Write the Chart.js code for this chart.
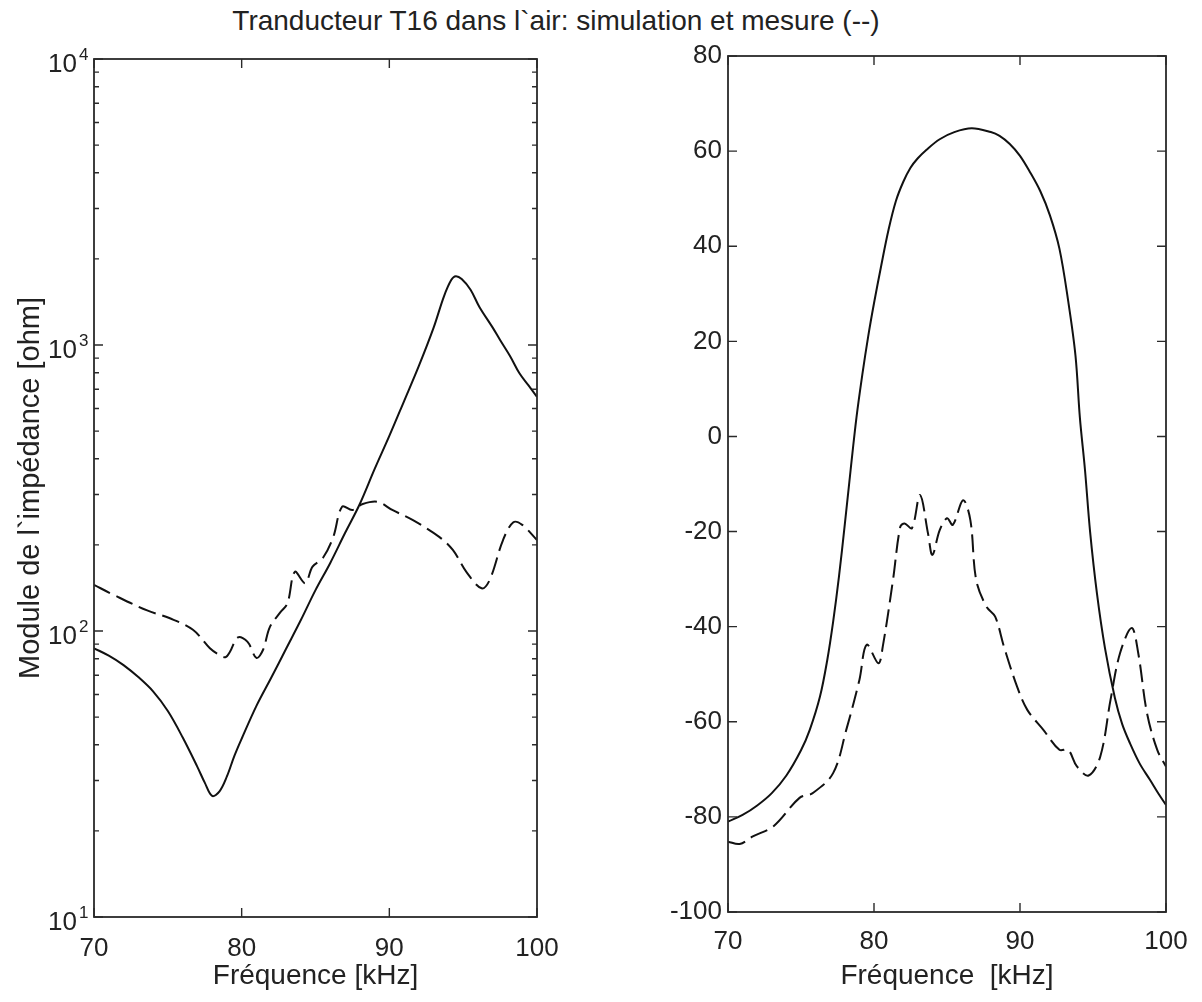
<!DOCTYPE html>
<html><head><meta charset="utf-8">
<script src="https://cdn.jsdelivr.net/npm/chart.js@4.4.1/dist/chart.umd.min.js"></script>
<style>
html,body{margin:0;padding:0;background:#fff;width:1202px;height:1002px;overflow:hidden;}
#title{position:absolute;left:0;top:5px;width:1112px;text-align:center;font:28px 'Liberation Sans',Arial,sans-serif;color:#222;line-height:32px;white-space:nowrap;}
canvas{position:absolute;top:0;}
#c1{left:0}
#c2{left:600px}
</style></head><body>
<div id="title">Tranducteur T16 dans l`air: simulation et mesure (--)</div>
<canvas id="c1" width="600" height="1002"></canvas>
<canvas id="c2" width="602" height="1002"></canvas>
<script>
// ---- data ----
const xTitleLeft = "Fréquence [kHz]";
const xTitleRight = "Fréquence  [kHz]";
const yTitleLeft = "Module de l`impédance [ohm]";

const leftSimFreq = [70, 71, 72, 73, 74, 75, 76, 77, 77.5, 78, 78.5, 79, 79.5, 80, 81, 82, 83, 84, 85, 86, 87, 88, 89, 90, 91, 92, 93, 93.7, 94.2, 94.5, 94.9, 95.5, 96.1, 97, 97.5, 98.2, 98.8, 99.4, 100];
const leftSimMag  = [87, 82, 76, 69, 61.5, 52.5, 42.5, 33.5, 29.5, 26.5, 27.5, 31, 36.5, 42, 54.7, 68.6, 86.5, 109, 139, 173, 220, 278, 368, 481, 637, 845, 1150, 1480, 1690, 1740, 1700, 1560, 1358, 1150, 1041, 910, 798, 725, 658];

const leftMeasFreq = [70, 71.3, 73.6, 75.1, 76.7, 77.85, 78.4, 78.9, 79.2, 79.75, 80.4, 81.0, 81.45, 81.9, 82.6, 83.1, 83.6, 84.3, 84.8, 85.5, 86.2, 86.8, 87.5, 88.2, 89.2, 90.2, 91.6, 93.4, 94.3, 95.25, 96.25, 96.8, 97.7, 98.4, 99.0, 100];
const leftMeasMag  = [145, 134, 118, 111, 101, 87, 83, 81, 84.5, 95, 91.6, 80.5, 86, 103, 116, 125, 161, 147, 168, 180, 213, 272, 265, 278, 283, 265, 244, 213, 192, 160, 141, 151, 208, 240, 235, 208];

const rightSimFreq  = [70, 71, 72, 73, 74, 75, 75.6, 76.3, 76.8, 77.2, 77.6, 78, 78.4, 78.8, 79.2, 79.6, 80, 80.5, 81, 81.5, 82, 82.5, 83, 83.6, 84.5, 85.5, 86.7, 88, 88.6, 89.3, 90, 90.7, 91.4, 92.05, 92.7, 93.3, 93.8, 94.1, 94.45, 94.8, 95.27, 95.82, 96.5, 97, 97.53, 98.2, 98.9, 99.5, 100];
const rightSimPhase = [-81, -79.6, -77.6, -75, -71.3, -66, -61.7, -54.7, -47, -39, -29.5, -18.5, -7, 4, 13, 21, 28, 36, 43.5, 49.5, 53.5, 56.5, 58.5, 60.3, 62.5, 64, 64.8, 64, 63.2, 61.5, 59, 55.5, 51.5, 46.5, 39.5, 28.5, 17, 4, -7, -20, -33, -44.5, -55, -60.5, -64.5, -68.8, -72.2, -75.2, -77.5];

const rightMeasFreq  = [70, 70.8, 71.7, 73.1, 74.9, 75.8, 77.2, 78.1, 79.0, 79.5, 80.3, 80.6, 81.3, 81.8, 82.1, 82.6, 83.15, 83.7, 84.0, 84.5, 85.0, 85.4, 86.1, 86.6, 87.0, 87.7, 88.3, 88.9, 89.8, 90.5, 91.6, 92.7, 93.3, 93.9, 94.7, 95.5, 96.2, 96.85, 97.65, 98.1, 98.7, 99.4, 100];
const rightMeasPhase = [-85.2, -85.7, -84.1, -82.0, -76.0, -75.0, -70.8, -61.7, -51.2, -43.8, -47.7, -44.2, -30.2, -19.0, -18.3, -19.3, -12.3, -20.4, -24.9, -19.7, -17.2, -18.6, -13.4, -17.6, -30.2, -35.8, -37.9, -44.2, -52.6, -57.5, -61.7, -65.9, -65.9, -69.4, -71.3, -67.3, -55.4, -45.6, -40.3, -45.6, -58.2, -65.9, -69.4];

const xTickValues = [70, 80, 90, 100];
const logMajorValues = [10, 100, 1000, 10000];
const logBaseText = '10';
const logExponentText = ['1', '2', '3', '4'];
const logDecades = [10, 100, 1000];
const logMantissas = [1, 2, 3, 4, 5, 6, 7, 8, 9];

// ---- helpers ----
const FONT = "'Liberation Sans', Arial, Helvetica, sans-serif";
const INK = '#222';
Chart.defaults.font.family = FONT;
Chart.defaults.color = INK;
const pts = (xs, ys) => xs.map((x, i) => ({x, y: ys[i]}));
const logTickValues = logDecades.flatMap(d => logMantissas.map(m => m * d)).concat([10000]);

const frameTicks = {
  id: 'frameTicks',
  afterDatasetsDraw(chart, args, opts) {
    const {ctx, chartArea: a} = chart;
    const xs = chart.scales.x, ys = chart.scales.y;
    ctx.save();
    ctx.strokeStyle = '#2a2a2a';
    ctx.lineWidth = 1.4;
    ctx.beginPath();
    xs.ticks.forEach(t => {
      const p = xs.getPixelForValue(t.value);
      ctx.moveTo(p, a.bottom); ctx.lineTo(p, a.bottom - opts.xLen);
      ctx.moveTo(p, a.top); ctx.lineTo(p, a.top + opts.xLen);
    });
    ys.ticks.forEach(t => {
      const p = ys.getPixelForValue(t.value);
      let len = opts.yLen;
      if (opts.log) {
        const l = Math.log10(t.value);
        if (Math.abs(l - Math.round(l)) > 1e-9) len = opts.yMinorLen;
      }
      ctx.moveTo(a.left, p); ctx.lineTo(a.left + len, p);
      ctx.moveTo(a.right, p); ctx.lineTo(a.right - len, p);
    });
    ctx.stroke();
    ctx.lineWidth = 1.8;
    ctx.strokeRect(a.left, a.top, a.right - a.left, a.bottom - a.top);
    ctx.restore();
  }
};

// power-of-ten labels with a raised exponent, placed with the log scale
const powerLabels = {
  id: 'powerLabels',
  afterDraw(chart) {
    const {ctx, chartArea: a} = chart;
    const ys = chart.scales.y;
    ctx.save();
    ctx.fillStyle = INK;
    ctx.textBaseline = 'alphabetic';
    logMajorValues.forEach((v, i) => {
      const p = ys.getPixelForValue(v);
      ctx.font = '26px ' + FONT;
      ctx.textAlign = 'right';
      ctx.fillText(logBaseText, a.left - 17, p + 13);
      ctx.font = '17px ' + FONT;
      ctx.textAlign = 'left';
      ctx.fillText(logExponentText[i], a.left - 15, p + 1);
    });
    ctx.restore();
  }
};

function xScale(title, pad, height, tpad) {
  return {
    type: 'linear', min: 70, max: 100,
    afterBuildTicks: s => { s.ticks = xTickValues.map(v => ({value: v})); },
    afterFit: s => { s.height = height; },
    grid: {display: false, drawTicks: false},
    border: {display: false},
    ticks: {font: {size: 26}, color: INK, padding: pad, maxRotation: 0, autoSkip: false},
    title: {display: true, text: title, font: {size: 28, lineHeight: 1}, color: INK, padding: {top: 0, bottom: tpad}}
  };
}

const common = {
  responsive: false,
  animation: false,
  devicePixelRatio: 1,
  plugins: {legend: {display: false}, tooltip: {enabled: false}},
  elements: {point: {radius: 0}, line: {tension: 0.35, borderWidth: 2, borderColor: '#111'}},
};

new Chart(document.getElementById('c1'), {
  type: 'line',
  data: {datasets: [
    {label: 'simulation', data: pts(leftSimFreq, leftSimMag), borderColor: '#111', fill: false},
    {label: 'mesure', data: pts(leftMeasFreq, leftMeasMag), borderColor: '#111', borderDash: [18, 7], fill: false}
  ]},
  options: Object.assign({}, common, {
    layout: {padding: {left: 0, right: 63, top: 59, bottom: 0}},
    plugins: Object.assign({}, common.plugins, {frameTicks: {xLen: 9, yLen: 9, yMinorLen: 5, log: true}}),
    scales: {
      x: xScale(xTitleLeft, 16, 85, 12),
      y: {
        type: 'logarithmic', min: 10, max: 10000,
        afterBuildTicks: s => { s.ticks = logTickValues.map(v => ({value: v})); },
        afterFit: s => { s.width = 94; },
        grid: {display: false, drawTicks: false},
        border: {display: false},
        ticks: {font: {size: 26}, color: INK, padding: 4, autoSkip: false, callback: () => ''},
        title: {display: true, text: yTitleLeft, font: {size: 29, lineHeight: 1}, color: INK, padding: {top: 16, bottom: 0}}
      }
    }
  }),
  plugins: [frameTicks, powerLabels]
});

new Chart(document.getElementById('c2'), {
  type: 'line',
  data: {datasets: [
    {label: 'simulation', data: pts(rightSimFreq, rightSimPhase), borderColor: '#111', fill: false},
    {label: 'mesure', data: pts(rightMeasFreq, rightMeasPhase), borderColor: '#111', borderDash: [18, 7], fill: false}
  ]},
  options: Object.assign({}, common, {
    layout: {padding: {left: 0, right: 36, top: 56, bottom: 0}},
    plugins: Object.assign({}, common.plugins, {frameTicks: {xLen: 9, yLen: 9, yMinorLen: 9, log: false}}),
    scales: {
      x: xScale(xTitleRight, 14, 90, 12),
      y: {
        type: 'linear', min: -100, max: 80,
        ticks: {stepSize: 20, font: {size: 26}, color: INK, padding: 6, autoSkip: false},
        afterFit: s => { s.width = 128; },
        grid: {display: false, drawTicks: false},
        border: {display: false}
      }
    }
  }),
  plugins: [frameTicks]
});
</script>
</body></html>
